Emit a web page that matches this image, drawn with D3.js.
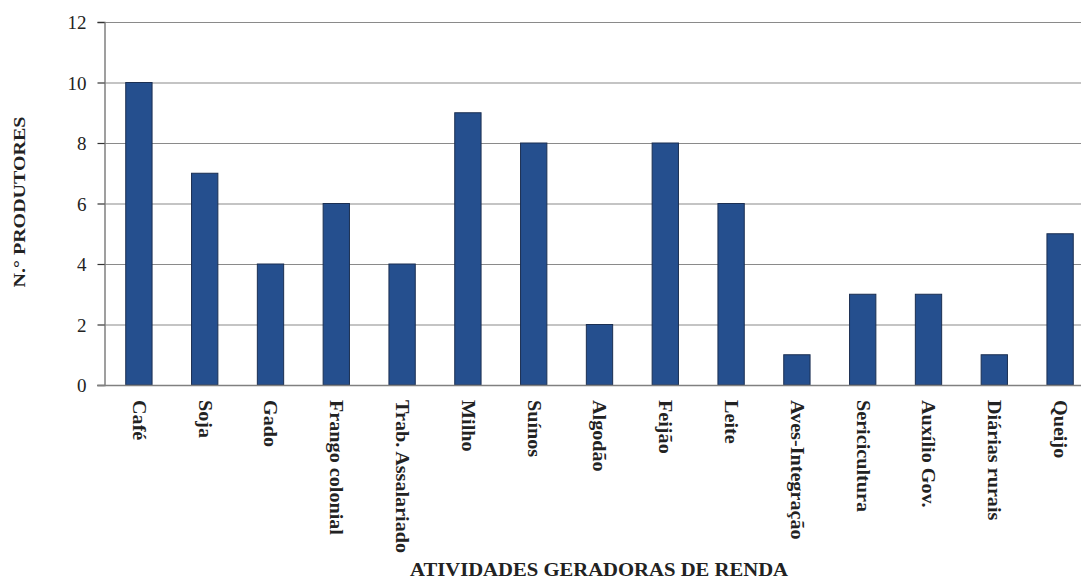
<!DOCTYPE html>
<html>
<head>
<meta charset="utf-8">
<script src="https://cdn.jsdelivr.net/npm/d3@7"></script>
<style>
  body { margin: 0; background: #fff; }
  svg { display: block; font-family: "Liberation Serif", "Times New Roman", serif; }
  svg text { font-family: "Liberation Serif", "Times New Roman", serif; }
</style>
</head>
<body>
<svg id="chart" width="1081" height="580"></svg>
<script>
var categories = ["Café", "Soja", "Gado", "Frango colonial", "Trab. Assalariado", "Milho", "Suínos",
    "Algodão", "Feijão", "Leite", "Aves-Integração", "Sericicultura", "Auxílio Gov.", "Diárias rurais", "Queijo"];
var produtores = [10, 7, 4, 6, 4, 9, 8, 2, 8, 6, 1, 3, 3, 1, 5];
var yTicks = [0, 2, 4, 6, 8, 10, 12];

var width = 1081, height = 580;
var svg = d3.select("#chart");

var x = d3.scaleBand()
    .domain(categories)
    .range([106, 1093])
    .paddingInner(0.6)
    .paddingOuter(0.3);

var y = d3.scaleLinear()
    .domain([0, 12])
    .range([385, 22]);

// gridlines
svg.append("g")
    .selectAll("line")
    .data(yTicks.filter(function (d) { return d > 0; }))
    .enter().append("line")
    .attr("x1", 104)
    .attr("x2", width)
    .attr("y1", function (d) { return y(d) + 0.5; })
    .attr("y2", function (d) { return y(d) + 0.5; })
    .style("stroke", "#8a8a8a")
    .style("stroke-width", 1.2);

// bars
svg.append("g")
    .selectAll("rect")
    .data(produtores)
    .enter().append("rect")
    .attr("x", function (d, i) { return x(categories[i]); })
    .attr("y", function (d) { return y(d); })
    .attr("width", x.bandwidth())
    .attr("height", function (d) { return y(0) - y(d); })
    .style("fill", "#254f8e")
    .style("stroke", "#1b2f52")
    .style("stroke-width", 1);

// y axis
var yAxis = d3.axisLeft(y).tickValues(yTicks).tickSize(7).tickPadding(11);
var gy = svg.append("g")
    .attr("transform", "translate(104.5,0)")
    .call(yAxis);
gy.attr("font-family", null).attr("font-size", null);
gy.select(".domain").style("stroke", "#808080").style("stroke-width", 1.5);
gy.selectAll(".tick line").style("stroke", "#333").style("stroke-width", 1.2);
gy.selectAll("text")
    .attr("dy", "0.36em")
    .style("font-size", "19px")
    .style("fill", "#222");

// baseline
svg.append("line")
    .attr("x1", 97)
    .attr("x2", width)
    .attr("y1", y(0) + 0.5)
    .attr("y2", y(0) + 0.5)
    .style("stroke", "#808080")
    .style("stroke-width", 1.5);

// x labels
svg.append("g")
    .selectAll("text")
    .data(categories)
    .enter().append("text")
    .attr("transform", function (d) {
        return "translate(" + (x(d) + x.bandwidth() / 2) + ",400) rotate(90) scale(1.12,1)";
    })
    .attr("dy", "0.34em")
    .attr("text-anchor", "start")
    .style("font-size", "18px")
    .style("font-weight", "bold")
    .style("fill", "#222")
    .text(function (d) { return d; });

// titles
svg.append("text")
    .attr("transform", "translate(25,202) rotate(-90)")
    .attr("text-anchor", "middle")
    .attr("textLength", 171)
    .attr("lengthAdjust", "spacingAndGlyphs")
    .style("font-size", "17px")
    .style("font-weight", "bold")
    .style("fill", "#222")
    .text("N.° PRODUTORES");

svg.append("text")
    .attr("x", 599)
    .attr("y", 576)
    .attr("text-anchor", "middle")
    .attr("textLength", 378)
    .attr("lengthAdjust", "spacingAndGlyphs")
    .style("font-size", "18px")
    .style("font-weight", "bold")
    .style("fill", "#222")
    .text("ATIVIDADES GERADORAS DE RENDA");
</script>
</body>
</html>
